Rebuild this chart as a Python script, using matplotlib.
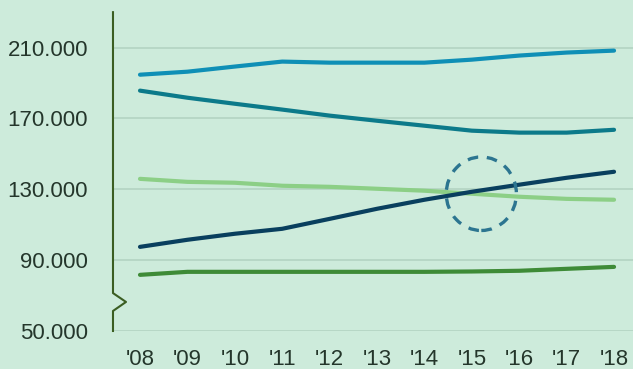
import matplotlib
matplotlib.use("Agg")
import matplotlib.pyplot as plt
from matplotlib.patches import Ellipse
from matplotlib.transforms import blended_transform_factory

years = ["'08", "'09", "'10", "'11", "'12", "'13", "'14", "'15", "'16", "'17", "'18"]
serie_a = [194700, 196400, 199300, 202100, 201500, 201500, 201500, 203200, 205500, 207200, 208300]
serie_b = [185700, 181700, 178300, 175000, 171600, 168700, 165900, 163100, 162000, 162000, 163600]
serie_c = [135900, 134200, 133700, 132000, 131400, 130300, 129200, 127500, 125800, 124600, 124100]
serie_d = [97500, 101500, 104900, 107700, 113300, 119000, 124100, 128600, 132600, 136500, 139900]
serie_e = [81700, 83400, 83400, 83400, 83400, 83400, 83400, 83600, 84000, 85100, 86200]
yticks = [50000, 90000, 130000, 170000, 210000]
ylabels = ["50.000", "90.000", "130.000", "170.000", "210.000"]

FONDO = "#cdebdb"
colores = ["#0f8fb6", "#0c7a8a", "#8ccf86", "#093f5e", "#3e8b37"]

plt.rcParams["font.family"] = ["Liberation Sans", "DejaVu Sans"]
fig = plt.figure(figsize=(6.33, 3.69), dpi=100, facecolor=FONDO)
ax = fig.add_axes([0.1785, 0.103, 1 - 0.1785, 0.864], facecolor=FONDO)

x = list(range(len(years)))
for s, c in zip([serie_a, serie_b, serie_c, serie_d, serie_e], colores):
    ax.plot(x, s, color=c, lw=3.0, solid_capstyle="round", zorder=3)

ax.set_xlim(-0.57, 10.4)
ax.set_ylim(50000, 230000)
ax.set_yticks(yticks)
ax.set_yticklabels(ylabels)
ax.set_xticks(x)
ax.set_xticklabels(years)
ax.tick_params(length=0, labelsize=16, colors="#24362b")
ax.tick_params(axis="y", pad=18)
ax.tick_params(axis="x", pad=13)
ax.grid(axis="y", color="#b3d3c2", lw=1.2)
for sp in ax.spines.values():
    sp.set_visible(False)

# eje con corte
tr = blended_transform_factory(ax.transAxes, ax.transData)
dx = 13 / 520
ax.plot([0, 0, dx, 0, 0], [50000, 61300, 66400, 71400, 230000], color="#3b5e22",
        lw=1.5, transform=tr, clip_on=False, zorder=4)

# círculo destacado
ax.add_patch(Ellipse((7.2, 127500), 1.48, 41500, fill=False, ec="#2c7590",
                     lw=2.4, ls=(0, (3.2, 2.6)), zorder=5))

fig.savefig("out.png", dpi=100, facecolor=FONDO)
